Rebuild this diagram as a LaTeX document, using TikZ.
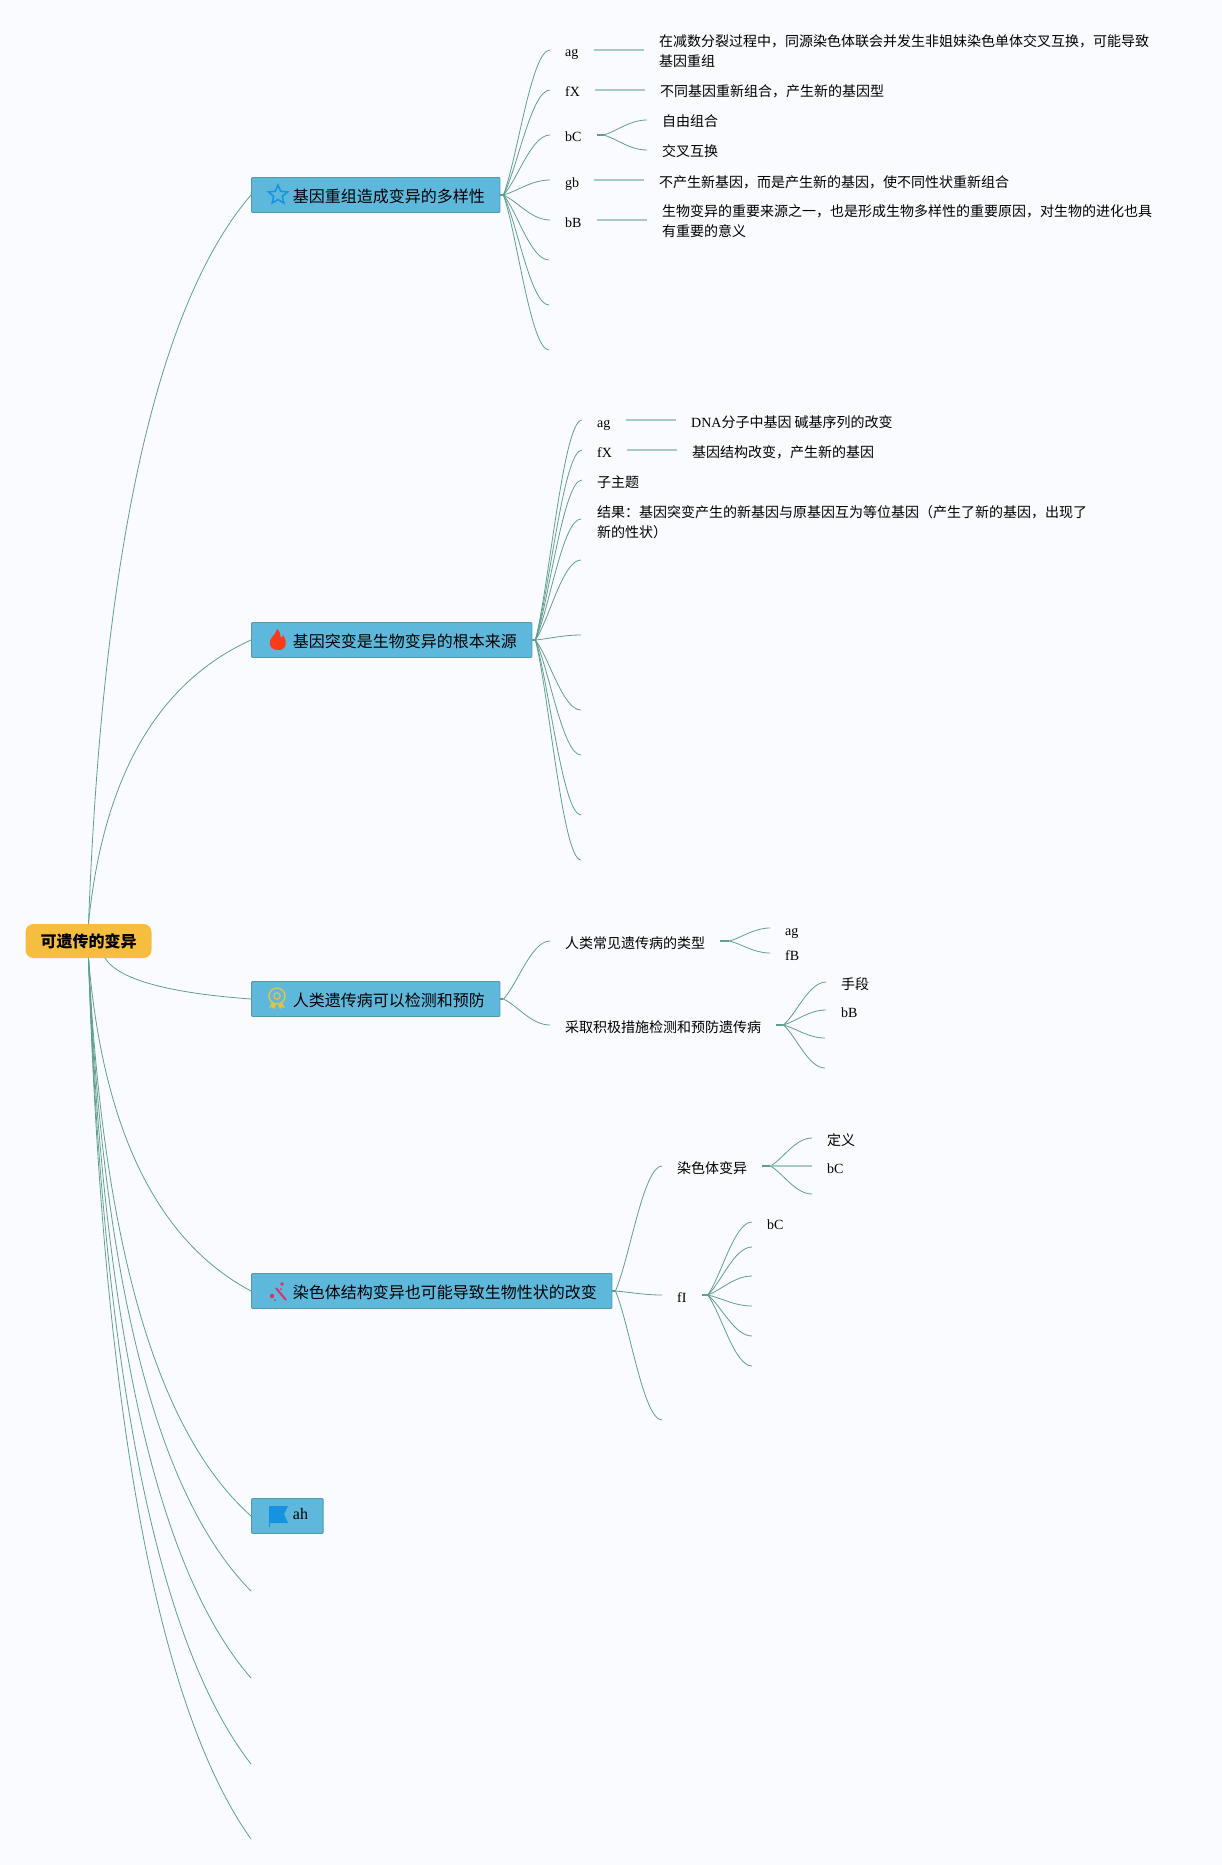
\documentclass[tikz,border=0pt]{standalone}
\usepackage{fontspec}
\setmainfont{Liberation Serif}
\newfontfamily\cjk{Noto Sans CJK SC}
\usetikzlibrary{calc, positioning, shapes.geometric}

\definecolor{pagebg}{HTML}{F9FBFF}
\definecolor{topicfill}{HTML}{5DB8DC}
\definecolor{topicline}{HTML}{4F9CA8}
\definecolor{rootfill}{HTML}{F5BE3E}
\definecolor{branchline}{HTML}{629E90}
\definecolor{stemline}{HTML}{A9CAC2}
\definecolor{iconblue}{HTML}{1593E0}
\definecolor{iconred}{HTML}{FB3A1A}
\definecolor{icongold}{HTML}{DAC44C}
\definecolor{iconpink}{HTML}{D6336C}

\begin{document}
\begin{tikzpicture}[
   x = 1pt, y = -1pt,
   topic/.style = {draw=topicline, fill=topicfill, line width=0.9pt, rounded corners=1pt, anchor=west,
      minimum height=35pt, inner xsep=15pt, inner ysep=0pt, text height=15pt, text depth=1pt,
      font=\fontsize{16}{20}\selectfont, execute at begin node=\hspace*{26.5pt}},
   leaf/.style = {anchor=west, inner xsep=15pt, inner ysep=0pt, text height=15pt, text depth=1pt,
      font=\fontsize{14}{20}\selectfont},
   note/.style = {anchor=west, align=left, inner xsep=15pt, inner ysep=0pt,
      font=\fontsize{14}{20}\selectfont},
   limb/.style = {draw=branchline, line width=0.8pt, to path={let \p1=(\tikztostart), \p2=(\tikztotarget) in
      .. controls ({\x1+0.1*(\x2-\x1)},{\y1+0.58*(\y2-\y1)}) and ({\x1+0.5*(\x2-\x1)},{\y1+0.87*(\y2-\y1)}) .. (\p2)}},
   twig/.style = {draw=branchline, line width=0.8pt, to path={let \p1=(\tikztostart), \p2=(\tikztotarget) in
      .. controls ({\x1+0.3*(\x2-\x1)},{\y1+0.25*(\y2-\y1)}) and ({\x1+0.6*(\x2-\x1)},{\y2}) .. (\p2)}},
   stub/.style = {draw=branchline, line width=1.6pt},
   stem/.style = {draw=stemline, line width=1.5pt}]
   \path[use as bounding box, fill=pagebg] (0,0) rectangle (1222,1865);

   % root and main topics
   \node[draw=none, fill=rootfill, rounded corners=8pt, minimum width=126pt, minimum height=34pt, inner sep=0pt,
      font=\fontsize{16}{20}\selectfont\cjk\bfseries] (root) at (88.5,941) {可遗传的变异};
   \coordinate (rootfoot) at (105,958);
   \node[topic] (recomb) at (251,195) {{\cjk 基因重组造成变异的多样性}};
   \node[topic] (mutation) at (251,640) {{\cjk 基因突变是生物变异的根本来源}};
   \node[topic] (disease) at (251,999) {{\cjk 人类遗传病可以检测和预防}};
   \node[topic] (chromo) at (251,1291) {{\cjk 染色体结构变异也可能导致生物性状的改变}};
   \node[topic] (flagged) at (251,1516) {\raisebox{4pt}{ah}};
   \coordinate (empty1) at (251,1591);
   \coordinate (empty2) at (251,1678);
   \coordinate (empty3) at (251,1764);
   \coordinate (empty4) at (251,1839);

   \draw[limb] (root.north) to (recomb.west);
   \draw[limb] (root.north) to (mutation.west);
   \draw[limb] (rootfoot) to (disease.west);
   \draw[limb] (root.south) to (chromo.west);
   \draw[limb] (root.south) to (flagged.west);
   \draw[limb] (root.south) to (empty1);
   \draw[limb] (root.south) to (empty2);
   \draw[limb] (root.south) to (empty3);
   \draw[limb] (root.south) to (empty4);

   % icons
   \node[star, star points=5, star point ratio=2.2, draw=iconblue, line width=1.5pt, inner sep=0pt, minimum size=20pt] (staricon) at ($(recomb.west)+(27,0)$) {};
   \begin{scope}[shift={(mutation.west)}]
      \fill[iconred] (27,10) .. controls (21,10) and (18,6) .. (19,1) .. controls (20,-3) and (25,-6) .. (26,-11)
         .. controls (30,-8) and (29,-4) .. (30,-2) .. controls (31,-3) and (32,-4) .. (32,-5)
         .. controls (35,-1) and (36,5) .. (33,8) .. controls (31,10) and (29,10) .. (27,10);
   \end{scope}
   \begin{scope}[shift={(disease.west)}]
      \draw[icongold, line width=1.5pt] (26,-3) circle (8);
      \draw[icongold, line width=1.3pt] (26,-3) circle (3.2);
      \fill[icongold] (21,3) -- (25,6) -- (23,10) -- (21,8) -- (18,9) -- cycle;
      \fill[icongold] (31,3) -- (27,6) -- (29,10) -- (31,8) -- (34,9) -- cycle;
   \end{scope}
   \begin{scope}[shift={(chromo.west)}]
      \draw[iconpink, line width=2pt] (25,-3) -- (35,9);
      \fill[iconpink] (21,5) circle (2.2);
      \fill[iconpink] (31,-7) circle (1.8);
      \fill[iconpink] (30,-2) circle (1);
      \fill[iconpink] (24,9) circle (1);
   \end{scope}
   \begin{scope}[shift={(flagged.west)}]
      \fill[iconblue] (18,-10) -- (37,-10) -- (33,-2) -- (37,7) -- (19,7) -- (19,11) -- (18,11) -- cycle;
   \end{scope}

   % first topic
   \coordinate (fan1) at ($(recomb.east)+(3,0)$);
   \draw[stub] (recomb.east) -- (fan1);
   \node[leaf] (r1) at (550,50) {ag};
   \node[leaf] (r2) at (550,90) {fX};
   \node[leaf] (r3) at (550,135) {bC};
   \node[leaf] (r4) at (550,180) {gb};
   \node[leaf] (r5) at (550,220) {bB};
   \coordinate (r6) at (549,260);
   \coordinate (r7) at (549,305);
   \coordinate (r8) at (549,350);
   \draw[twig] (fan1) to (r1.west);
   \draw[twig] (fan1) to (r2.west);
   \draw[twig] (fan1) to (r3.west);
   \draw[twig] (fan1) to (r4.west);
   \draw[twig] (fan1) to (r5.west);
   \draw[twig] (fan1) to (r6);
   \draw[twig] (fan1) to (r7);
   \draw[twig] (fan1) to (r8);

   \node[note] (r1a) at (644,51.5) {{\cjk 在减数分裂过程中，同源染色体联会并发生非姐妹染色单体交叉互换，可能导致}\\{\cjk 基因重组}};
   \node[leaf] (r2a) at (645,90) {{\cjk 不同基因重新组合，产生新的基因型}};
   \node[leaf] (r3a) at (647,120) {{\cjk 自由组合}};
   \node[leaf] (r3b) at (647,150) {{\cjk 交叉互换}};
   \node[leaf] (r4a) at (644,180) {{\cjk 不产生新基因，而是产生新的基因，使不同性状重新组合}};
   \node[note] (r5a) at (647,221.5) {{\cjk 生物变异的重要来源之一，也是形成生物多样性的重要原因，对生物的进化也具}\\{\cjk 有重要的意义}};
   \coordinate (fanr3) at ($(r3.east)+(7,0)$);
   \draw[stem] (r1.east) -- (r1.east -| r1a.west);
   \draw[stem] (r2.east) -- (r2a.west);
   \draw[stub] (r3.east) -- (fanr3);
   \draw[twig] (fanr3) to (r3a.west);
   \draw[twig] (fanr3) to (r3b.west);
   \draw[stem] (r4.east) -- (r4a.west);
   \draw[stem] (r5.east) -- (r5.east -| r5a.west);

   % second topic
   \coordinate (fan2) at ($(mutation.east)+(3,0)$);
   \draw[stub] (mutation.east) -- (fan2);
   \node[leaf] (m1) at (582,420) {ag};
   \node[leaf] (m2) at (582,450) {fX};
   \node[leaf] (m3) at (582,480) {{\cjk 子主题}};
   \node[note] (m4) at (582,522.5) {{\cjk 结果：基因突变产生的新基因与原基因互为等位基因（产生了新的基因，出现了}\\{\cjk 新的性状）}};
   \coordinate (m4end) at (581,519);
   \coordinate (m5) at (581,560);
   \coordinate (m6) at (581,635);
   \coordinate (m7) at (581,710);
   \coordinate (m8) at (581,755);
   \coordinate (m9) at (581,815);
   \coordinate (m10) at (581,860);
   \draw[twig] (fan2) to (m1.west);
   \draw[twig] (fan2) to (m2.west);
   \draw[twig] (fan2) to (m3.west);
   \draw[twig] (fan2) to (m4end);
   \draw[twig] (fan2) to (m5);
   \draw[twig] (fan2) to (m6);
   \draw[twig] (fan2) to (m7);
   \draw[twig] (fan2) to (m8);
   \draw[twig] (fan2) to (m9);
   \draw[twig] (fan2) to (m10);

   \node[leaf] (m1a) at (676,420) {DNA{\cjk 分子中基因 碱基序列的改变}};
   \node[leaf] (m2a) at (677,450) {{\cjk 基因结构改变，产生新的基因}};
   \draw[stem] (m1.east) -- (m1a.west);
   \draw[stem] (m2.east) -- (m2a.west);

   % third topic
   \coordinate (fan3) at ($(disease.east)+(3,0)$);
   \draw[stub] (disease.east) -- (fan3);
   \node[leaf] (d1) at (550,941) {{\cjk 人类常见遗传病的类型}};
   \node[leaf] (d2) at (550,1025) {{\cjk 采取积极措施检测和预防遗传病}};
   \draw[twig] (fan3) to (d1.west);
   \draw[twig] (fan3) to (d2.west);

   \coordinate (fand1) at ($(d1.east)+(9,0)$);
   \draw[stub] (d1.east) -- (fand1);
   \node[leaf] (d1a) at (770,928) {ag};
   \node[leaf] (d1b) at (770,953) {fB};
   \draw[twig] (fand1) to (d1a.west);
   \draw[twig] (fand1) to (d1b.west);

   \coordinate (fand2) at ($(d2.east)+(7,0)$);
   \draw[stub] (d2.east) -- (fand2);
   \node[leaf] (d2a) at (826,982) {{\cjk 手段}};
   \node[leaf] (d2b) at (826,1010) {bB};
   \coordinate (d2c) at (825,1038);
   \coordinate (d2d) at (825,1068);
   \draw[twig] (fand2) to (d2a.west);
   \draw[twig] (fand2) to (d2b.west);
   \draw[twig] (fand2) to (d2c);
   \draw[twig] (fand2) to (d2d);

   % fourth topic
   \coordinate (fan4) at ($(chromo.east)+(3,0)$);
   \draw[stub] (chromo.east) -- (fan4);
   \node[leaf] (c1) at (662,1166) {{\cjk 染色体变异}};
   \node[leaf] (c2) at (662,1295) {fI};
   \coordinate (c3) at (662,1420);
   \draw[twig] (fan4) to (c1.west);
   \draw[twig] (fan4) to (c2.west);
   \draw[twig] (fan4) to (c3);

   \coordinate (fanc1) at ($(c1.east)+(8,0)$);
   \draw[stub] (c1.east) -- (fanc1);
   \node[leaf] (c1a) at (812,1138) {{\cjk 定义}};
   \node[leaf] (c1b) at (812,1166) {bC};
   \coordinate (c1c) at (812,1194);
   \draw[twig] (fanc1) to (c1a.west);
   \draw[stem] (fanc1) -- (c1b.west);
   \draw[twig] (fanc1) to (c1c);

   \coordinate (fanc2) at ($(c2.east)+(6,0)$);
   \draw[stub] (c2.east) -- (fanc2);
   \node[leaf] (c2a) at (752,1222) {bC};
   \coordinate (c2b) at (752,1247);
   \coordinate (c2c) at (752,1276);
   \coordinate (c2d) at (752,1306);
   \coordinate (c2e) at (752,1336);
   \coordinate (c2f) at (752,1366);
   \draw[twig] (fanc2) to (c2a.west);
   \draw[twig] (fanc2) to (c2b);
   \draw[twig] (fanc2) to (c2c);
   \draw[twig] (fanc2) to (c2d);
   \draw[twig] (fanc2) to (c2e);
   \draw[twig] (fanc2) to (c2f);
\end{tikzpicture}
\end{document}
